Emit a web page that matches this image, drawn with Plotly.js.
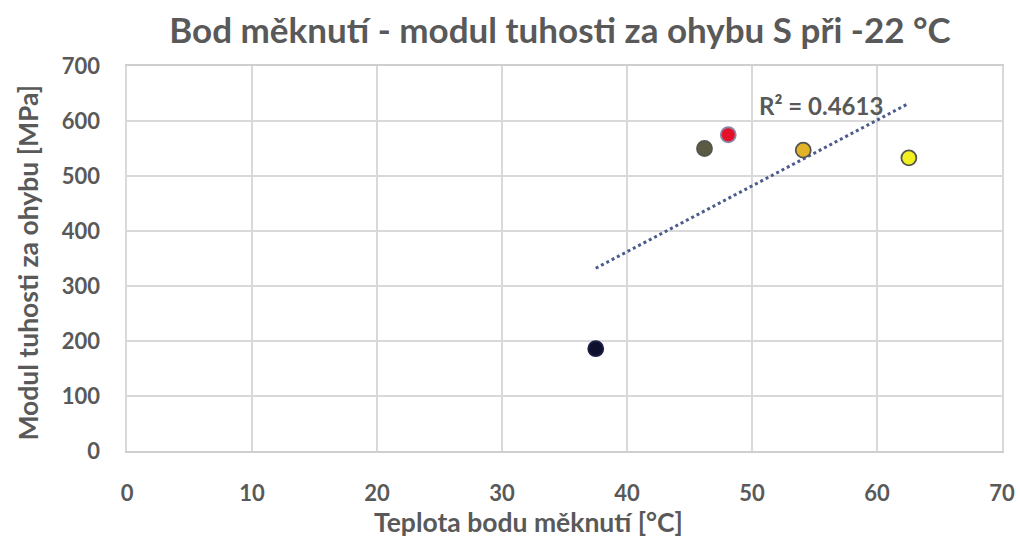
<!DOCTYPE html>
<html>
<head>
<meta charset="utf-8">
<script src="https://cdn.plot.ly/plotly-3.0.1.min.js"></script>
<style>html,body{margin:0;padding:0;background:#fff;}#chart{width:1020px;height:542px;}</style>
</head>
<body>
<div id="chart"></div>
<script>
// Data
const softeningPoint = [37.5, 46.2, 48.1, 54.1, 62.55];   // Teplota bodu měknutí [°C]
const stiffnessModulus = [186, 550, 575, 547, 533];       // Modul tuhosti za ohybu [MPa]
const pointColors = ['#0e0f2c', '#5d5a44', '#e5112b', '#e2b326', '#f2f020'];
const pointBorders = ['#1c1f45', '#55554f', '#8a87a8', '#55554f', '#55554f'];
const r2Label = 'R² = 0.4613';
const chartTitle = 'Bod měknutí - modul tuhosti za ohybu S při -22 °C';
const xTitle = 'Teplota bodu měknutí [°C]';
const yTitle = 'Modul tuhosti za ohybu [MPa]';

// Linear least-squares trendline computed from the data
const n = softeningPoint.length;
const mx = softeningPoint.reduce((a, b) => a + b, 0) / n;
const my = stiffnessModulus.reduce((a, b) => a + b, 0) / n;
let sxy = 0, sxx = 0;
for (let i = 0; i < n; i++) {
  sxy += (softeningPoint[i] - mx) * (stiffnessModulus[i] - my);
  sxx += (softeningPoint[i] - mx) ** 2;
}
const slope = sxy / sxx, intercept = my - slope * mx;
const xMin = Math.min(...softeningPoint), xMax = Math.max(...softeningPoint);
const trendX = [xMin, xMax];
const trendY = trendX.map(x => intercept + slope * x);

const grey = '#595959';
const fontFam = 'Lato, "Open Sans", sans-serif';

const M = {l: 126.5, r: 18, t: 65.5, b: 90.5};
const W = 1020, H = 542;
const pw = W - M.l - M.r, ph = H - M.t - M.b;
const px = v => (v - M.l) / pw;          // pixel -> paper x
const py = v => (H - M.b - v) / ph;      // pixel -> paper y

const data = [
  {
    x: trendX, y: trendY, type: 'scatter', mode: 'lines',
    line: {color: '#4a5b8c', width: 3, dash: 'dot'},
    hoverinfo: 'skip', showlegend: false
  },
  {
    x: softeningPoint, y: stiffnessModulus, type: 'scatter', mode: 'markers',
    marker: {size: 15, color: pointColors, line: {color: pointBorders, width: 1.8}},
    showlegend: false
  }
];

const layout = {
  width: W, height: H,
  margin: M,
  paper_bgcolor: '#ffffff', plot_bgcolor: '#ffffff',
  font: {family: fontFam, color: grey},
  title: {
    text: chartTitle,
    font: {family: fontFam, size: 35, color: grey, weight: 'bold'},
    x: 560 / W, xanchor: 'center', y: 1 - 31 / H, yanchor: 'middle'
  },
  xaxis: {
    range: [0, 70], dtick: 10, tick0: 0,
    showgrid: true, gridcolor: '#d9d9d9', gridwidth: 1.6,
    showline: true, linecolor: '#cfcfcf', linewidth: 2, mirror: true,
    zeroline: false, ticks: '',
    ticklabelstandoff: 22,
    tickfont: {family: fontFam, size: 22, color: grey, weight: 'bold'},
    fixedrange: true
  },
  yaxis: {
    range: [0, 700], dtick: 100, tick0: 0,
    showgrid: true, gridcolor: '#d9d9d9', gridwidth: 1.6,
    showline: true, linecolor: '#d9d9d9', linewidth: 1.6, mirror: true,
    zeroline: false, ticks: '',
    ticklabelstandoff: 21,
    tickfont: {family: fontFam, size: 22, color: grey, weight: 'bold'},
    fixedrange: true
  },
  annotations: [
    {
      text: r2Label, x: 55.5, y: 628, xref: 'x', yref: 'y',
      xanchor: 'center', yanchor: 'middle', showarrow: false,
      font: {family: fontFam, size: 24, color: grey, weight: 'bold'}
    },
    {
      text: xTitle, x: px(528), y: py(523), xref: 'paper', yref: 'paper',
      xanchor: 'center', yanchor: 'middle', showarrow: false,
      font: {family: fontFam, size: 26.5, color: grey, weight: 'bold'}
    },
    {
      text: yTitle, x: px(27), y: py(263), xref: 'paper', yref: 'paper',
      xanchor: 'center', yanchor: 'middle', showarrow: false, textangle: -90,
      font: {family: fontFam, size: 26.5, color: grey, weight: 'bold'}
    }
  ]
};

Plotly.newPlot('chart', data, layout, {displayModeBar: false, staticPlot: true});
</script>
</body>
</html>
